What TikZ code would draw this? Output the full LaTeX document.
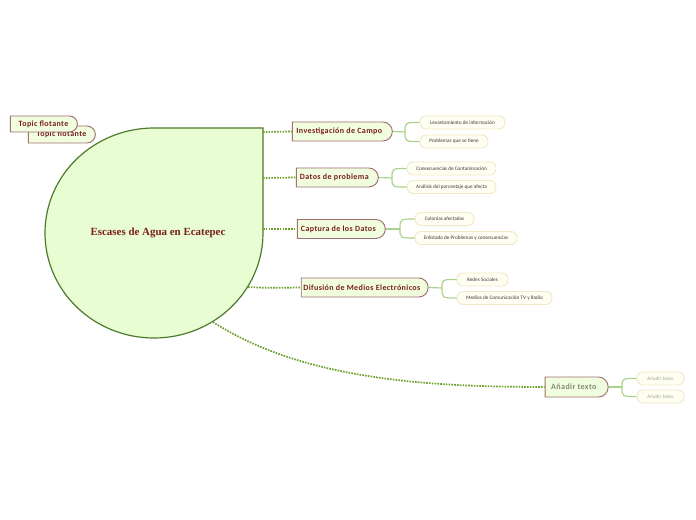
\documentclass[tikz,border=0pt]{standalone}
\usepackage{fontspec}
\setmainfont{Carlito}
\newfontfamily\titlefont{Liberation Serif}
\newfontfamily\topicfont[LetterSpace=5]{Carlito}
\usetikzlibrary{shapes.misc}
\definecolor{cfill}{HTML}{E8FDD2}
\definecolor{cborder}{HTML}{4E7A2E}
\definecolor{tfill}{HTML}{F0FDDE}
\definecolor{tborder}{HTML}{A07070}
\definecolor{ttext}{HTML}{7A1E1E}
\definecolor{sfill}{HTML}{FEFEF2}
\definecolor{sborder}{HTML}{F0E9C4}
\definecolor{stext}{HTML}{3A3A3A}
\definecolor{dotgreen}{HTML}{6BA22C}
\definecolor{subline}{HTML}{AAD28C}
\definecolor{greytext}{HTML}{7E8C70}
\definecolor{greysub}{HTML}{A3A893}
\tikzset{
  topic/.style={rounded rectangle, rounded rectangle left arc=none, draw=tborder, fill=tfill, line width=0.7pt,
    text=ttext, font=\topicfont\fontsize{6}{7}\selectfont\bfseries, inner sep=0pt, minimum height=14.25pt},
  sub/.style={rounded corners=4.5pt, draw=sborder, fill=sfill, line width=0.7pt, text=stext,
    font=\fontsize{3.9}{4.5}\selectfont, inner sep=0pt, minimum height=9.75pt},
  dotline/.style={draw=dotgreen, line width=1.3pt, dash pattern=on 1.2pt off 0.9pt},
  subconn/.style={draw=subline, line width=0.9pt},
}
\begin{document}
\begin{tikzpicture}[x=0.75pt, y=-0.75pt]
\useasboundingbox (0,0) rectangle (696,520);
% central shape
\draw[fill=cfill, draw=cborder, line width=0.9pt] (154,128) -- (263,128) -- (263,233)
  arc[start angle=0, end angle=-270, x radius=81.75pt, y radius=78.75pt] -- cycle;
\node[text=ttext, font=\titlefont\fontsize{8.2}{10}\selectfont\bfseries] (center) at (158,233) {Escases de Agua en Ecatepec};
\coordinate (c1) at (263,132);
\coordinate (c2) at (263,178);
\coordinate (c3) at (263,229);
\coordinate (c4) at (248,287);
\coordinate (c5) at (213,322);

% floating topics
\node[topic, minimum width=50.25pt, minimum height=12.75pt] (f2) at (61.5,134.5) {Topic flotante};
\node[topic, minimum width=50.25pt, minimum height=12pt] (f1) at (43.5,124) {Topic flotante};

% main topics
\node[topic, minimum width=75pt] (t1) at (342,131.5) {\hspace{-4pt}Investigación de Campo};
\node[topic, minimum width=61.5pt] (t2) at (337,177.5) {\hspace{-4pt}Datos de problema};
\node[topic, minimum width=66pt] (t3) at (341,229) {\hspace{-4pt}Captura de los Datos};
\node[topic, minimum width=95.25pt] (t4) at (364.5,287.5) {\hspace{-4pt}Difusión de Medios Electrónicos};
\node[topic, minimum width=47.25pt, minimum height=15pt, text=greytext] (t5) at (576.5,387) {\hspace{-4pt}Añadir texto};

\draw[dotline] (c1) -- (t1.west);
\draw[dotline] (c2) -- (t2.west);
\draw[dotline] (c3) -- (t3.west);
\draw[dotline] (c4) .. controls (268,288) .. (t4.west);
\draw[dotline] (c5) .. controls (300,378) and (420,387) .. (t5.west);

% subtopics
\node[sub, minimum width=63.75pt] (s11) at (462.5,122.5) {Levantamiento de información};
\node[sub, minimum width=51pt] (s12) at (454,141.5) {Problemas que se tiene};
\node[sub, minimum width=66.75pt] (s21) at (451.5,168.5) {Consecuencias de Contaminación};
\node[sub, minimum width=66.75pt] (s22) at (451.5,187) {Análisis del porcentaje que afecta};
\node[sub, minimum width=44.25pt] (s31) at (444.5,219) {Colonias afectadas};
\node[sub, minimum width=76.5pt] (s32) at (466,238) {Enlistado de Problemas y consecuencias};
\node[sub, minimum width=38.25pt] (s41) at (482.5,279.5) {Redes Sociales};
\node[sub, minimum width=71.25pt] (s42) at (504.5,298) {Medios de Comunicación TV y Radio};
\node[sub, minimum width=35.25pt, text=greysub] (s51) at (660.5,378.5) {Añadir texto};
\node[sub, minimum width=35.25pt, text=greysub] (s52) at (660.5,396.5) {Añadir texto};

\coordinate (j1) at (405,132);
\coordinate (j2) at (392,178);
\coordinate (j3) at (400,229);
\coordinate (j4) at (442,288);
\coordinate (j5) at (622,387);

\draw[subconn] (t1.east) -- (j1);
\draw[subconn] (j1) .. controls (j1 |- s11.west) .. (s11.west);
\draw[subconn] (j1) .. controls (j1 |- s12.west) .. (s12.west);
\draw[subconn] (t2.east) -- (j2);
\draw[subconn] (j2) .. controls (j2 |- s21.west) .. (s21.west);
\draw[subconn] (j2) .. controls (j2 |- s22.west) .. (s22.west);
\draw[subconn] (t3.east) -- (j3);
\draw[subconn] (j3) .. controls (j3 |- s31.west) .. (s31.west);
\draw[subconn] (j3) .. controls (j3 |- s32.west) .. (s32.west);
\draw[subconn] (t4.east) -- (j4);
\draw[subconn] (j4) .. controls (j4 |- s41.west) .. (s41.west);
\draw[subconn] (j4) .. controls (j4 |- s42.west) .. (s42.west);
\draw[subconn] (t5.east) -- (j5);
\draw[subconn] (j5) .. controls (j5 |- s51.west) .. (s51.west);
\draw[subconn] (j5) .. controls (j5 |- s52.west) .. (s52.west);
\end{tikzpicture}
\end{document}
